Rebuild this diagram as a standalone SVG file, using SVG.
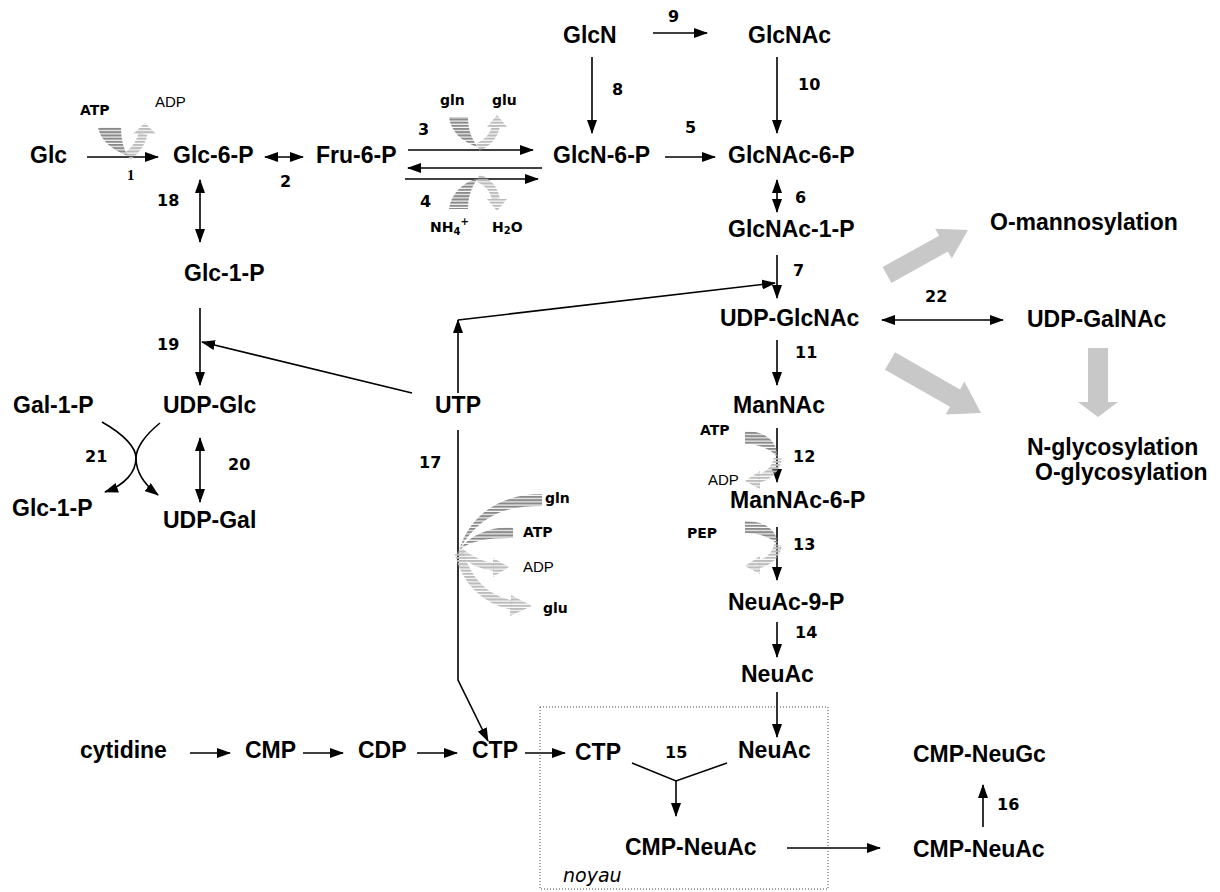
<svg xmlns="http://www.w3.org/2000/svg" width="1220" height="892" viewBox="0 0 1220 892">
<style>
.n{font-family:"Liberation Sans",Arial,sans-serif;font-weight:bold;font-size:23px;fill:#000}
.k{font-family:"DejaVu Sans",Verdana,sans-serif;font-weight:bold;font-size:16px;fill:#000}
.sb{font-family:"DejaVu Sans",Verdana,sans-serif;font-weight:bold;font-size:14px;fill:#000}
.sr{font-family:"Liberation Sans",Arial,sans-serif;font-size:15px;fill:#000}
.ln{stroke:#000;stroke-width:1.6;fill:none}
.ar{marker-end:url(#ah)}
.da{marker-start:url(#ah);marker-end:url(#ah)}
.big{fill:#c8c8c8;stroke:none}
</style>
<defs>
<marker id="ah" viewBox="0 0 14 10" refX="13" refY="5" markerWidth="14" markerHeight="10" markerUnits="userSpaceOnUse" orient="auto-start-reverse"><path d="M0,0 L14,5 L0,10 Z" fill="#000"/></marker>
<pattern id="sd" width="8" height="3.2" patternUnits="userSpaceOnUse"><rect width="8" height="2.1" fill="#8a8a8a"/></pattern>
<pattern id="sl" width="8" height="3.2" patternUnits="userSpaceOnUse"><rect width="8" height="2.1" fill="#bcbcbc"/></pattern>
</defs>
<rect width="1220" height="892" fill="#fff"/>

<g id="connectors">
<line class="ln ar" x1="87" y1="157" x2="158" y2="157"/>
<line class="ln da" x1="265" y1="157" x2="303" y2="157"/>
<line class="ln ar" x1="408" y1="150" x2="533" y2="150"/>
<line class="ln ar" x1="542" y1="168" x2="408" y2="168"/>
<line class="ln ar" x1="405" y1="179" x2="538" y2="179"/>
<line class="ln ar" x1="665" y1="157" x2="715" y2="157"/>
<line class="ln ar" x1="592" y1="57" x2="592" y2="133"/>
<line class="ln ar" x1="653" y1="33" x2="707" y2="33"/>
<line class="ln ar" x1="777" y1="57" x2="777" y2="133"/>
<line class="ln da" x1="777" y1="180" x2="777" y2="212"/>
<line class="ln ar" x1="777" y1="255" x2="777" y2="298"/>
<polyline class="ln ar" points="458,393 458,320"/>
<line class="ln ar" x1="458" y1="320" x2="775" y2="283"/>
<line class="ln ar" x1="412" y1="393" x2="202" y2="342"/>
<line class="ln da" x1="200" y1="180" x2="200" y2="242"/>
<line class="ln ar" x1="200" y1="308" x2="200" y2="385"/>
<line class="ln da" x1="200" y1="438" x2="200" y2="502"/>
<path class="ln ar" d="M102,422 C125,435 136,448 136,458 C136,472 145,485 158,495"/>
<path class="ln ar" d="M160,423 C145,435 136,448 136,458 C136,472 125,485 105,492"/>
<line class="ln ar" x1="777" y1="340" x2="777" y2="385"/>
<line class="ln ar" x1="777" y1="428" x2="777" y2="482"/>
<line class="ln ar" x1="777" y1="527" x2="777" y2="580"/>
<line class="ln ar" x1="777" y1="622" x2="777" y2="657"/>
<line class="ln ar" x1="777" y1="692" x2="777" y2="737"/>
<line class="ln da" x1="882" y1="320" x2="1003" y2="320"/>
<polyline class="ln ar" points="458,430 458,680 488,741"/>
<line class="ln ar" x1="190" y1="753" x2="230" y2="753"/>
<line class="ln ar" x1="303" y1="753" x2="343" y2="753"/>
<line class="ln ar" x1="417" y1="753" x2="457" y2="753"/>
<line class="ln ar" x1="525" y1="753" x2="565" y2="753"/>
<polyline class="ln" points="632,763 676,781 727,763"/>
<line class="ln ar" x1="676" y1="781" x2="676" y2="816"/>
<line class="ln ar" x1="787" y1="848" x2="880" y2="848"/>
<line class="ln ar" x1="983" y1="827" x2="983" y2="785"/>

<g id="co1">
<path d="M98,127 L121,127 C121,140 124,150 128,156 C112,150 100,140 98,127 Z" fill="url(#sd)"/>
<path d="M128,156 C136,150 141,143 143,134" stroke="url(#sl)" stroke-width="9" fill="none"/>
<polygon points="133,134 145,123 156,134" fill="url(#sl)"/>
</g>
<g id="co3">
<path d="M449,117 L468,117 C468,130 472,140 478,147 C462,142 451,132 449,117 Z" fill="url(#sd)"/>
<path d="M478,147 C488,143 494,135 496,126" stroke="url(#sl)" stroke-width="8" fill="none"/>
<polygon points="487,127 497,115 507,127" fill="url(#sl)"/>
</g>
<g id="co4">
<path d="M449,209 L468,209 C468,196 472,186 478,178 C462,183 451,194 449,209 Z" fill="url(#sd)"/>
<path d="M478,178 C488,182 494,190 496,199" stroke="url(#sl)" stroke-width="8" fill="none"/>
<polygon points="487,199 497,211 507,199" fill="url(#sl)"/>
</g>
<g id="co12">
<path d="M745,431 C765,431 777,440 778,458 C772,450 760,444 745,444 Z" fill="url(#sd)"/>
<path d="M778,458 C776,470 768,476 758,479" stroke="url(#sl)" stroke-width="8" fill="none"/>
<polygon points="760,471 745,481 760,489" fill="url(#sl)"/>
</g>
<g id="co13">
<path d="M745,521 C765,521 777,530 778,545 C772,538 760,533 745,533 Z" fill="url(#sd)"/>
<path d="M778,545 C776,556 768,562 759,564" stroke="url(#sl)" stroke-width="8" fill="none"/>
<polygon points="760,556 745,566 760,574" fill="url(#sl)"/>
</g>
<g id="co17">
<path d="M542,494 L542,506 C505,506 480,515 459,550 C470,515 500,494 542,494 Z" fill="url(#sd)"/>
<path d="M513,527 L513,538 C490,538 472,540 459,550 C470,535 490,527 513,527 Z" fill="url(#sd)"/>
<path d="M459,551 C470,560 482,566 494,567" stroke="url(#sl)" stroke-width="8" fill="none"/>
<polygon points="493,558 509,567 493,577" fill="url(#sl)"/>
<path d="M459,553 C466,580 485,600 512,605" stroke="url(#sl)" stroke-width="9" fill="none"/>
<polygon points="511,595 532,606 510,616" fill="url(#sl)"/>
</g>

<polygon class="big" points="882.6,267.1 939.1,235.7 935.2,228.7 968,230 951.8,258.5 947.9,251.5 891.4,282.9"/>
<polygon class="big" points="895,352.3 960,389.4 964.4,381.6 981,413 945.6,414.6 950,406.8 885,369.7"/>
<polygon class="big" points="1088,348 1108,348 1108,402 1118,402 1098,417 1078,402 1088,402"/>
</g>

<rect id="noyau-box" x="540" y="707" width="288" height="182" fill="none" stroke="#444" stroke-width="1" stroke-dasharray="1,2"/>

<g id="labels-numbers">
<text x="127" y="180" style="font-family:'Liberation Serif','Times New Roman',serif;font-weight:bold;font-size:15px">1</text>
<text class="k" x="280" y="187">2</text>
<text class="k" x="418" y="135">3</text>
<text class="k" x="420" y="207">4</text>
<text class="k" x="685" y="133">5</text>
<text class="k" x="795" y="203">6</text>
<text class="k" x="793" y="276">7</text>
<text class="k" x="612" y="95">8</text>
<text class="k" x="668" y="22">9</text>
<text class="k" x="798" y="90">10</text>
<text class="k" x="795" y="358">11</text>
<text class="k" x="793" y="462">12</text>
<text class="k" x="793" y="550">13</text>
<text class="k" x="795" y="638">14</text>
<text class="k" x="665" y="758">15</text>
<text class="k" x="997" y="810">16</text>
<text class="k" x="419" y="468">17</text>
<text class="k" x="157" y="206">18</text>
<text class="k" x="157" y="350">19</text>
<text class="k" x="228" y="470">20</text>
<text class="k" x="85" y="462">21</text>
<text class="k" x="925" y="302">22</text>
</g>

<g id="cofactors">
<text class="sb" x="80" y="115">ATP</text>
<text class="sr" x="155" y="107">ADP</text>
<text class="sb" x="440" y="105">gln</text>
<text class="sb" x="492" y="105">glu</text>
<text class="sb" x="430" y="232">NH<tspan font-size="10" dy="3">4</tspan><tspan font-size="10" dy="-10">+</tspan></text>
<text class="sb" x="492" y="232">H<tspan font-size="10" dy="2">2</tspan><tspan dy="-2">O</tspan></text>
<text class="sb" x="700" y="435">ATP</text>
<text class="sr" x="708" y="485">ADP</text>
<text class="sb" x="687" y="538">PEP</text>
<text class="sb" x="545" y="503">gln</text>
<text class="sb" x="523" y="537">ATP</text>
<text class="sr" x="523" y="572">ADP</text>
<text class="sb" x="543" y="613">glu</text>
</g>

<g id="n-Glc"><text class="n" x="30" y="163">Glc</text></g>
<g id="n-Glc6P"><text class="n" x="173" y="163">Glc-6-P</text></g>
<g id="n-Fru6P"><text class="n" x="316" y="163">Fru-6-P</text></g>
<g id="n-GlcN6P"><text class="n" x="553" y="163">GlcN-6-P</text></g>
<g id="n-GlcNAc6P"><text class="n" x="728" y="163">GlcNAc-6-P</text></g>
<g id="n-GlcN"><text class="n" x="563" y="43">GlcN</text></g>
<g id="n-GlcNAc"><text class="n" x="748" y="43">GlcNAc</text></g>
<g id="n-GlcNAc1P"><text class="n" x="728" y="237">GlcNAc-1-P</text></g>
<g id="n-Omann"><text class="n" x="990" y="230">O-mannosylation</text></g>
<g id="n-Glc1P"><text class="n" x="184" y="281">Glc-1-P</text></g>
<g id="n-UDPGlcNAc"><text class="n" x="720" y="326">UDP-GlcNAc</text></g>
<g id="n-UDPGalNAc"><text class="n" x="1027" y="327">UDP-GalNAc</text></g>
<g id="n-Gal1P"><text class="n" x="13" y="413">Gal-1-P</text></g>
<g id="n-UDPGlc"><text class="n" x="163" y="413">UDP-Glc</text></g>
<g id="n-UTP"><text class="n" x="458" y="413" text-anchor="middle">UTP</text></g>
<g id="n-ManNAc"><text class="n" x="733" y="413">ManNAc</text></g>
<g id="n-Nglyc"><text class="n" x="1027" y="455">N-glycosylation</text></g>
<g id="n-Oglyc"><text class="n" x="1035" y="480">O-glycosylation</text></g>
<g id="n-Glc1P-b"><text class="n" x="12" y="516">Glc-1-P</text></g>
<g id="n-UDPGal"><text class="n" x="163" y="528">UDP-Gal</text></g>
<g id="n-ManNAc6P"><text class="n" x="730" y="508">ManNAc-6-P</text></g>
<g id="n-NeuAc9P"><text class="n" x="728" y="610">NeuAc-9-P</text></g>
<g id="n-NeuAc"><text class="n" x="741" y="682">NeuAc</text></g>
<g id="n-cytidine"><text class="n" x="80" y="758">cytidine</text></g>
<g id="n-CMP"><text class="n" x="245" y="758">CMP</text></g>
<g id="n-CDP"><text class="n" x="358" y="758">CDP</text></g>
<g id="n-CTP"><text class="n" x="472" y="758">CTP</text></g>
<g id="n-CTP-b"><text class="n" x="575" y="760">CTP</text></g>
<g id="n-NeuAc-b"><text class="n" x="738" y="758">NeuAc</text></g>
<g id="n-CMPNeuAc"><text class="n" x="625" y="855">CMP-NeuAc</text></g>
<g id="n-CMPNeuAc-b"><text class="n" x="913" y="857">CMP-NeuAc</text></g>
<g id="n-CMPNeuGc"><text class="n" x="913" y="762">CMP-NeuGc</text></g>
<text x="563" y="882" style="font-family:'DejaVu Sans',Verdana,sans-serif;font-style:italic;font-size:19px">noyau</text>
</svg>
